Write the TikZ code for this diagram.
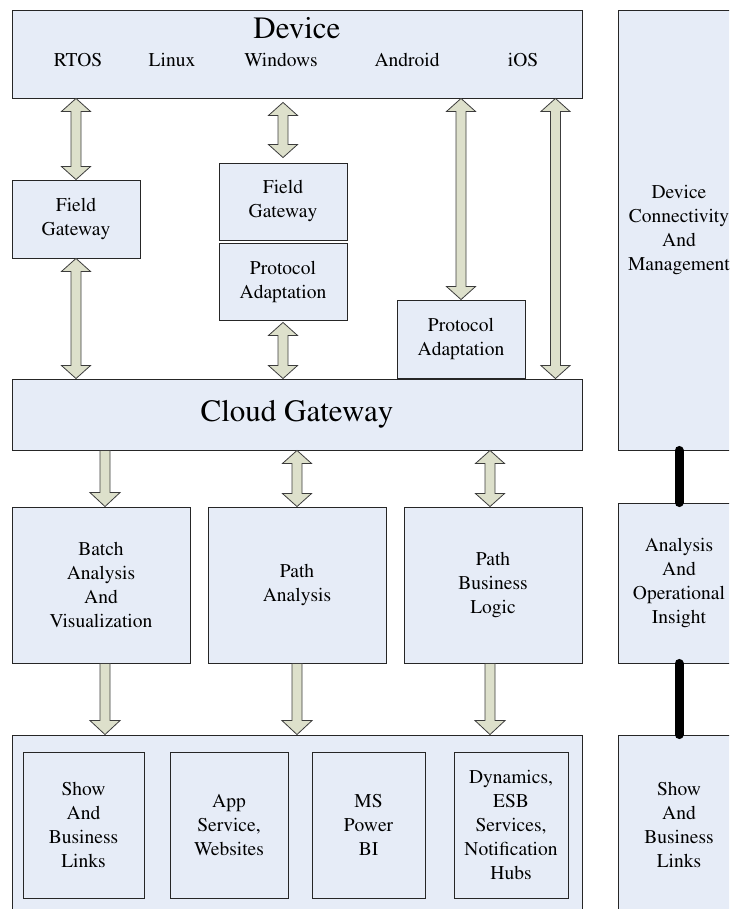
\documentclass[tikz,border=0pt]{standalone}
\usepackage[T1]{fontenc}
\renewcommand\rmdefault{ptm}
\usetikzlibrary{calc}
\definecolor{boxblue}{RGB}{230,236,247}
\definecolor{arrfill}{RGB}{221,224,203}
\definecolor{arrline}{RGB}{60,60,60}
\newcommand\bodyfont{\rmfamily\fontsize{19.5}{24}\selectfont}
\newcommand\bigfont{\rmfamily\fontsize{31}{36}\selectfont}
\newcommand\dblarr[2]{\draw[arrowst] (#1) -- ([xshift=14.5pt,yshift=-13pt]#1) -- ([xshift=5pt,yshift=-13pt]#1) -- ([xshift=5pt,yshift=13pt]#2) -- ([xshift=14.5pt,yshift=13pt]#2) -- (#2) -- ([xshift=-14.5pt,yshift=13pt]#2) -- ([xshift=-5pt,yshift=13pt]#2) -- ([xshift=-5pt,yshift=-13pt]#1) -- ([xshift=-14.5pt,yshift=-13pt]#1) -- cycle;}
\newcommand\sglarr[2]{\draw[arrowst] ([xshift=-5pt]#1) -- ([xshift=5pt]#1) -- ([xshift=5pt,yshift=14pt]#2) -- ([xshift=15pt,yshift=14pt]#2) -- (#2) -- ([xshift=-15pt,yshift=14pt]#2) -- ([xshift=-5pt,yshift=14pt]#2) -- cycle;}
\tikzset{
  box/.style={draw=black!85, fill=boxblue, line width=0.9pt, align=center, inner sep=0pt, font=\bodyfont},
  lbl/.style={font=\bodyfont, inner sep=0pt, anchor=base},
  arrowst/.style={draw=arrline, fill=arrfill, line width=0.8pt, line join=miter},
  bar/.style={line width=9pt, line cap=round, draw=black}
}
\begin{document}
\begin{tikzpicture}[x=1pt,y=-1pt]
\useasboundingbox (0,0) rectangle (729,909);
\clip (0,0) rectangle (729,909);
% device
\node[box, minimum width=570pt, minimum height=88pt] (dev) at (297,54) {};
\node[font=\bigfont, inner sep=0pt, anchor=base] (devt) at (297,39) {Device};
\node[lbl] (os1) at (78,67) {RTOS};
\node[lbl] (os2) at (172,67) {Linux};
\node[lbl] (os3) at (281,67) {Windows};
\node[lbl] (os4) at (407,67) {Android};
\node[lbl] (os5) at (523,67) {iOS};
% right column
\node[box, minimum width=122pt, minimum height=440pt] (rb1) at (679,230) {Device\\Connectivity\\And\\Management};
\node[box, minimum width=122pt, minimum height=160pt] (rb2) at (679,583) {Analysis\\And\\Operational\\Insight};
\node[box, minimum width=122pt, minimum height=180pt] (rb3) at (679,825) {Show\\And\\Business\\Links};
% gateways
\node[box, minimum width=128pt, minimum height=78pt] (fg1) at (76,219) {Field\\Gateway};
\node[box, minimum width=128pt, minimum height=77pt] (fg2) at (283,201.5) {Field\\Gateway};
\node[box, minimum width=128pt, minimum height=77pt] (pa1) at (283,281.5) {Protocol\\Adaptation};
\node[box, minimum width=128pt, minimum height=78pt] (pa2) at (461,339) {Protocol\\Adaptation};
\node[box, minimum width=570pt, minimum height=71pt, font=\bigfont] (cg) at (297,414.5) {Cloud Gateway};
% row 3
\node[box, minimum width=178pt, minimum height=156pt] (bat) at (101,585) {Batch\\Analysis\\And\\Visualization};
\node[box, minimum width=178pt, minimum height=156pt] (pan) at (297,585) {Path\\Analysis};
\node[box, minimum width=178pt, minimum height=156pt] (pbl) at (493,585) {Path\\Business\\Logic};
% bottom
\node[box, minimum width=570pt, minimum height=180pt] (bot) at (297,825) {};
\node[box, minimum width=121pt, minimum height=146pt] (sb) at (83.5,825) {Show\\And\\Business\\Links};
\node[box, minimum width=118pt, minimum height=146pt] (app) at (229,825) {App\\Service,\\Websites};
\node[box, minimum width=113pt, minimum height=146pt] (ms) at (368.5,825) {MS\\Power\\BI};
\node[box, minimum width=114pt, minimum height=146pt] (dyn) at (511,825) {Dynamics,\\ESB\\Services,\\Notification\\Hubs};
% arrow end points
\coordinate (a1t) at (fg1.north |- dev.south);
\coordinate (a1b) at (fg1.north);
\coordinate (a2t) at (fg1.south);
\coordinate (a2b) at (fg1.south |- cg.north);
\coordinate (a3t) at ([yshift=-4pt]fg2.north |- dev.south);
\coordinate (a3b) at ([yshift=5pt]fg2.north);
\coordinate (a4t) at ([yshift=-2pt]pa1.south);
\coordinate (a4b) at (pa1.south |- cg.north);
\coordinate (a5t) at (pa2.north |- dev.south);
\coordinate (a5b) at (pa2.north);
\coordinate (a6t) at ([xshift=-27pt]dev.south east);
\coordinate (a6b) at ([xshift=-27pt]cg.north east);
\coordinate (b1t) at ([xshift=4pt]bat.north |- cg.south);
\coordinate (b1b) at ([xshift=4pt]bat.north);
\coordinate (b2t) at (pan.north |- cg.south);
\coordinate (b2b) at (pan.north);
\coordinate (b3t) at ([xshift=-3pt]pbl.north |- cg.south);
\coordinate (b3b) at ([xshift=-3pt]pbl.north);
\coordinate (c1t) at ([xshift=4pt]bat.south);
\coordinate (c1b) at ([xshift=4pt]bat.south |- bot.north);
\coordinate (c2t) at (pan.south);
\coordinate (c2b) at (pan.south |- bot.north);
\coordinate (c3t) at ([xshift=-3pt]pbl.south);
\coordinate (c3b) at ([xshift=-3pt]pbl.south |- bot.north);
% arrows
\dblarr{a1t}{a1b}
\dblarr{a2t}{a2b}
\dblarr{a3t}{a3b}
\dblarr{a4t}{a4b}
\dblarr{a5t}{a5b}
\dblarr{a6t}{a6b}
\sglarr{b1t}{b1b}
\dblarr{b2t}{b2b}
\dblarr{b3t}{b3b}
\sglarr{c1t}{c1b}
\sglarr{c2t}{c2b}
\sglarr{c3t}{c3b}
% bars
\draw[bar] (rb1.south) -- (rb2.north);
\draw[bar] (rb2.south) -- (rb3.north);
\end{tikzpicture}
\end{document}
